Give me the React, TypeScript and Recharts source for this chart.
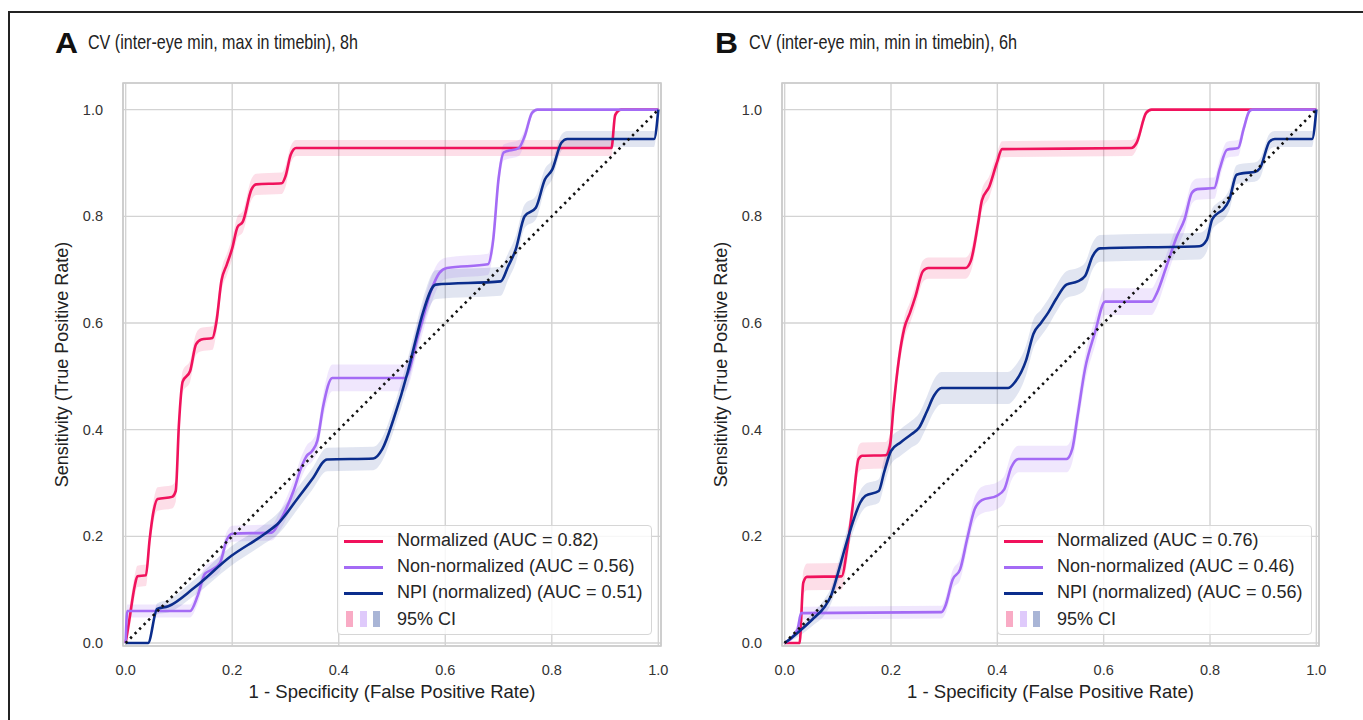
import React from 'react';
import {
  ComposedChart,
  Line,
  Area,
  XAxis,
  YAxis,
  CartesianGrid,
  ReferenceArea,
  Legend,
  Label,
} from 'recharts';

// [false positive rate, sensitivity, 95% CI half-width]
type Pt = [number, number, number];

const tickValues = [0, 0.2, 0.4, 0.6, 0.8, 1.0];
const tickLabels = ['0.0', '0.2', '0.4', '0.6', '0.8', '1.0'];

const panelLetters = ['A', 'B'];
const panelTitles = [
  'CV (inter-eye min, max in timebin), 8h',
  'CV (inter-eye min, min in timebin), 6h',
];
const seriesNames = ['Normalized', 'Non-normalized', 'NPI (normalized)'];
const aucA = ['0.82', '0.56', '0.51'];
const aucB = ['0.76', '0.46', '0.56'];
const ciLabel = '95% CI';
const xAxisLabel = '1 - Specificity (False Positive Rate)';
const yAxisLabel = 'Sensitivity (True Positive Rate)';

const aNormalized: Pt[] = [
  [0, 0, 0.01], [0.007, 0.044, 0.02], [0.017, 0.107, 0.02], [0.022, 0.125, 0.02],
  [0.038, 0.127, 0.02], [0.045, 0.194, 0.02], [0.052, 0.245, 0.02], [0.06, 0.27, 0.022],
  [0.087, 0.274, 0.022], [0.094, 0.285, 0.02], [0.1, 0.41, 0.02], [0.107, 0.49, 0.02],
  [0.121, 0.51, 0.02], [0.132, 0.56, 0.02], [0.142, 0.569, 0.022], [0.163, 0.572, 0.022],
  [0.17, 0.6, 0.02], [0.18, 0.68, 0.02], [0.19, 0.71, 0.02], [0.2, 0.74, 0.02],
  [0.21, 0.78, 0.02], [0.22, 0.79, 0.02], [0.236, 0.85, 0.02], [0.245, 0.86, 0.02],
  [0.293, 0.862, 0.02], [0.3, 0.875, 0.02], [0.31, 0.916, 0.016], [0.32, 0.928, 0.015],
  [0.912, 0.928, 0.015], [0.919, 0.99, 0.01], [0.93, 1, 0], [1, 1, 0],
];
const aNonNormalized: Pt[] = [
  [0, 0, 0.01], [0.003, 0.06, 0.012], [0.121, 0.06, 0.012], [0.135, 0.088, 0.015],
  [0.149, 0.13, 0.015], [0.163, 0.138, 0.015], [0.177, 0.15, 0.015], [0.19, 0.194, 0.015],
  [0.2, 0.205, 0.015], [0.274, 0.207, 0.015], [0.288, 0.226, 0.018], [0.315, 0.285, 0.02],
  [0.33, 0.33, 0.02], [0.34, 0.351, 0.02], [0.35, 0.36, 0.02], [0.36, 0.38, 0.02],
  [0.371, 0.445, 0.022], [0.388, 0.497, 0.025], [0.524, 0.497, 0.025], [0.55, 0.58, 0.025],
  [0.575, 0.665, 0.025], [0.589, 0.694, 0.022], [0.603, 0.703, 0.02], [0.68, 0.71, 0.02],
  [0.69, 0.756, 0.02], [0.7, 0.87, 0.018], [0.71, 0.92, 0.015], [0.738, 0.928, 0.015],
  [0.749, 0.95, 0.012], [0.763, 0.994, 0.005], [0.773, 1, 0], [1, 1, 0],
];
const aNpi: Pt[] = [
  [0, 0, 0], [0.042, 0, 0], [0.059, 0.064, 0.01], [0.08, 0.069, 0.012],
  [0.128, 0.103, 0.015], [0.198, 0.163, 0.018], [0.26, 0.204, 0.018], [0.288, 0.226, 0.02],
  [0.322, 0.27, 0.02], [0.35, 0.307, 0.02], [0.378, 0.344, 0.022], [0.465, 0.346, 0.022],
  [0.482, 0.364, 0.022], [0.503, 0.42, 0.022], [0.53, 0.51, 0.025], [0.545, 0.57, 0.025],
  [0.558, 0.619, 0.025], [0.582, 0.672, 0.027], [0.704, 0.678, 0.027], [0.718, 0.706, 0.025],
  [0.732, 0.737, 0.025], [0.749, 0.8, 0.022], [0.77, 0.816, 0.022], [0.787, 0.869, 0.02],
  [0.801, 0.888, 0.018], [0.818, 0.938, 0.015], [0.829, 0.945, 0.015], [0.992, 0.945, 0.015],
  [1, 1, 0],
];

const bNormalized: Pt[] = [
  [0, 0, 0], [0.028, 0, 0], [0.035, 0.113, 0.022], [0.042, 0.124, 0.025],
  [0.107, 0.125, 0.025], [0.118, 0.18, 0.025], [0.128, 0.257, 0.025], [0.139, 0.345, 0.025],
  [0.146, 0.351, 0.025], [0.19, 0.352, 0.025], [0.198, 0.37, 0.022], [0.205, 0.445, 0.02],
  [0.215, 0.533, 0.02], [0.225, 0.59, 0.02], [0.236, 0.62, 0.02], [0.246, 0.65, 0.02],
  [0.26, 0.697, 0.02], [0.27, 0.703, 0.02], [0.34, 0.703, 0.02], [0.35, 0.716, 0.02],
  [0.364, 0.788, 0.02], [0.371, 0.83, 0.02], [0.385, 0.856, 0.02], [0.399, 0.9, 0.018],
  [0.409, 0.926, 0.015], [0.652, 0.928, 0.015], [0.662, 0.938, 0.012], [0.68, 0.994, 0.005],
  [0.69, 1, 0], [1, 1, 0],
];
const bNonNormalized: Pt[] = [
  [0, 0, 0], [0.024, 0.025, 0.01], [0.031, 0.056, 0.012], [0.295, 0.058, 0.012],
  [0.302, 0.069, 0.015], [0.316, 0.119, 0.018], [0.33, 0.138, 0.02], [0.343, 0.194, 0.02],
  [0.357, 0.25, 0.022], [0.371, 0.268, 0.025], [0.399, 0.276, 0.025], [0.413, 0.288, 0.025],
  [0.426, 0.329, 0.025], [0.44, 0.345, 0.025], [0.53, 0.345, 0.025], [0.541, 0.364, 0.025],
  [0.551, 0.426, 0.025], [0.565, 0.514, 0.025], [0.583, 0.58, 0.025], [0.603, 0.64, 0.025],
  [0.69, 0.64, 0.025], [0.7, 0.656, 0.025], [0.718, 0.706, 0.022], [0.738, 0.763, 0.022],
  [0.752, 0.794, 0.022], [0.766, 0.844, 0.02], [0.776, 0.851, 0.02], [0.808, 0.853, 0.02],
  [0.818, 0.888, 0.018], [0.832, 0.925, 0.015], [0.853, 0.928, 0.015], [0.863, 0.963, 0.01],
  [0.874, 0.997, 0.004], [0.88, 1, 0], [1, 1, 0],
];
const bNpi: Pt[] = [
  [0, 0, 0], [0.024, 0.019, 0.008], [0.052, 0.044, 0.012], [0.076, 0.069, 0.015],
  [0.087, 0.088, 0.015], [0.1, 0.13, 0.018], [0.114, 0.18, 0.02], [0.128, 0.226, 0.02],
  [0.142, 0.263, 0.022], [0.152, 0.276, 0.022], [0.177, 0.285, 0.022], [0.187, 0.32, 0.025],
  [0.2, 0.36, 0.025], [0.218, 0.376, 0.025], [0.239, 0.392, 0.025], [0.253, 0.404, 0.027],
  [0.267, 0.433, 0.028], [0.281, 0.464, 0.03], [0.295, 0.478, 0.03], [0.42, 0.478, 0.03],
  [0.433, 0.489, 0.03], [0.454, 0.53, 0.028], [0.468, 0.58, 0.027], [0.482, 0.6, 0.025],
  [0.496, 0.62, 0.025], [0.51, 0.644, 0.025], [0.53, 0.672, 0.025], [0.551, 0.678, 0.025],
  [0.565, 0.688, 0.025], [0.579, 0.725, 0.025], [0.593, 0.74, 0.025], [0.78, 0.744, 0.025],
  [0.794, 0.756, 0.022], [0.804, 0.794, 0.02], [0.815, 0.806, 0.02], [0.825, 0.813, 0.02],
  [0.836, 0.83, 0.02], [0.85, 0.878, 0.018], [0.863, 0.881, 0.018], [0.884, 0.883, 0.018],
  [0.894, 0.89, 0.018], [0.912, 0.94, 0.015], [0.922, 0.945, 0.015], [0.992, 0.945, 0.015],
  [1, 1, 0],
];

const chanceLine = [
  { x: 0, y: 0 },
  { x: 1, y: 1 },
];

const seriesColors = ['#f0125c', '#a46bf5', '#0b2d8c'];
const bandOpacity = [0.14, 0.16, 0.12];

const FONT = '"Liberation Sans", Arial, Helvetica, sans-serif';

function toRows(pts: Pt[]) {
  return pts.map(([x, y, c]) => ({
    x,
    y,
    band: [Math.max(0, y - c), Math.min(1, y + c)],
  }));
}

const X_DOMAIN: [number, number] = [-0.005, 1.005];
const Y_DOMAIN: [number, number] = [-0.0056, 1.05];

function LegendBox({ aucs }: { aucs: string[] }) {
  const textStyle: React.CSSProperties = {
    position: 'absolute',
    left: 59,
    top: 2,
    whiteSpace: 'nowrap',
    lineHeight: '20px',
  };
  return (
    <div
      style={{
        width: 315,
        height: 110,
        boxSizing: 'border-box',
        border: '1.3px solid #d6d6d6',
        borderRadius: 4,
        background: 'rgba(255,255,255,0.82)',
        fontFamily: FONT,
        fontSize: 18,
        color: '#262626',
        position: 'relative',
      }}
    >
      {seriesNames.map((name, i) => (
        <div
          key={name}
          style={{ position: 'absolute', left: 0, top: 2 + i * 26, height: 26, width: 315 }}
        >
          <div
            style={{
              position: 'absolute',
              left: 6,
              top: 12,
              width: 39,
              height: 2.6,
              background: seriesColors[i],
            }}
          />
          <div style={textStyle}>{`${name} (AUC = ${aucs[i]})`}</div>
        </div>
      ))}
      <div style={{ position: 'absolute', left: 0, top: 80, height: 26, width: 315 }}>
        {seriesColors.map((c, i) => (
          <div
            key={c}
            style={{
              position: 'absolute',
              left: 8 + i * 13.5,
              top: 5,
              width: 7,
              height: 16,
              boxSizing: 'border-box',
              background: c,
              opacity: 0.35,
              border: `1.2px solid ${c}`,
            }}
          />
        ))}
        <div style={{ ...textStyle, top: 3 }}>{ciLabel}</div>
      </div>
    </div>
  );
}

function RocPanel({
  width,
  marginLeft,
  marginRight,
  legendLeft,
  series,
  aucs,
}: {
  width: number;
  marginLeft: number;
  marginRight: number;
  legendLeft: number;
  series: Pt[][];
  aucs: string[];
}) {
  const rows = series.map(toRows);
  const tickStyle = { fill: '#333', fontSize: 14.5, fontFamily: FONT };
  return (
    <ComposedChart
      width={width}
      height={720}
      margin={{ top: 83, left: marginLeft, right: marginRight, bottom: 18 }}
    >
      <CartesianGrid stroke="#d3d3d3" strokeWidth={1.4} />
      <XAxis
        type="number"
        dataKey="x"
        domain={X_DOMAIN}
        ticks={tickValues}
        interval={0}
        allowDataOverflow
        axisLine={false}
        tickLine={false}
        tickSize={0}
        tickMargin={19}
        height={56}
        tick={tickStyle}
        tickFormatter={(v: number) => tickLabels[tickValues.indexOf(v)] ?? String(v)}
      >
        <Label
          value={xAxisLabel}
          position="insideBottom"
          offset={4}
          style={{ fill: '#222', fontSize: 18.5, fontFamily: FONT }}
        />
      </XAxis>
      <YAxis
        type="number"
        domain={Y_DOMAIN}
        ticks={tickValues}
        interval={0}
        allowDataOverflow
        axisLine={false}
        tickLine={false}
        tickSize={0}
        tickMargin={20}
        width={60}
        tick={tickStyle}
        tickFormatter={(v: number) => tickLabels[tickValues.indexOf(v)] ?? String(v)}
      >
        <Label
          value={yAxisLabel}
          angle={-90}
          position="insideLeft"
          offset={-1}
          style={{ fill: '#222', fontSize: 18, fontFamily: FONT, textAnchor: 'middle' }}
        />
      </YAxis>
      <ReferenceArea
        x1={X_DOMAIN[0]}
        x2={X_DOMAIN[1]}
        y1={Y_DOMAIN[0]}
        y2={Y_DOMAIN[1]}
        fill="none"
        stroke="#cbcbcb"
        strokeWidth={1.7}
        ifOverflow="visible"
      />
      {rows.map((r, i) => (
        <Area
          key={`band-${i}`}
          data={r}
          dataKey="band"
          type="monotone"
          stroke="none"
          fill={seriesColors[i]}
          fillOpacity={bandOpacity[i]}
          isAnimationActive={false}
          activeDot={false}
        />
      ))}
      {rows.map((r, i) => (
        <Line
          key={`line-${i}`}
          data={r}
          dataKey="y"
          type="monotone"
          stroke={seriesColors[i]}
          strokeWidth={2.6}
          dot={false}
          activeDot={false}
          isAnimationActive={false}
        />
      ))}
      <Line
        data={chanceLine}
        dataKey="y"
        type="linear"
        stroke="#111"
        strokeWidth={2.6}
        strokeDasharray="2.4 4"
        dot={false}
        activeDot={false}
        isAnimationActive={false}
      />
      <Legend
        layout="horizontal"
        verticalAlign="middle"
        align="center"
        wrapperStyle={{ position: 'absolute', left: legendLeft, top: 525, width: 315, height: 110 }}
        content={() => <LegendBox aucs={aucs} />}
      />
    </ComposedChart>
  );
}

export default function App() {
  return (
    <div
      style={{
        position: 'fixed',
        left: 0,
        top: 0,
        width: 1363,
        height: 720,
        overflow: 'hidden',
        background: '#fff',
        fontFamily: FONT,
      }}
    >
      <div
        style={{
          position: 'absolute',
          left: 8,
          top: 11,
          width: 1500,
          height: 900,
          border: '2.5px solid #232323',
          boxSizing: 'border-box',
        }}
      />
      <div style={{ position: 'absolute', left: 0, top: 0 }}>
        <RocPanel
          width={680}
          marginLeft={63}
          marginRight={19}
          legendLeft={337}
          series={[aNormalized, aNonNormalized, aNpi]}
          aucs={aucA}
        />
      </div>
      <div style={{ position: 'absolute', left: 660, top: 0 }}>
        <RocPanel
          width={703}
          marginLeft={62}
          marginRight={44}
          legendLeft={337}
          series={[bNormalized, bNonNormalized, bNpi]}
          aucs={aucB}
        />
      </div>
      <svg
        width={1363}
        height={720}
        style={{ position: 'absolute', left: 0, top: 0, pointerEvents: 'none' }}
      >
        {[
          { lx: 55, tx: 88, tw: 270 },
          { lx: 715, tx: 749, tw: 268 },
        ].map((p, i) => (
          <g key={i}>
            <text
              x={p.lx}
              y={53}
              fontFamily={FONT}
              fontWeight="bold"
              fontSize={29}
              fill="#111"
              textLength={23}
              lengthAdjust="spacingAndGlyphs"
            >
              {panelLetters[i]}
            </text>
            <text
              x={p.tx}
              y={49}
              fontFamily={FONT}
              fontSize={21}
              fill="#222"
              textLength={p.tw}
              lengthAdjust="spacingAndGlyphs"
            >
              {panelTitles[i]}
            </text>
          </g>
        ))}
      </svg>
    </div>
  );
}
